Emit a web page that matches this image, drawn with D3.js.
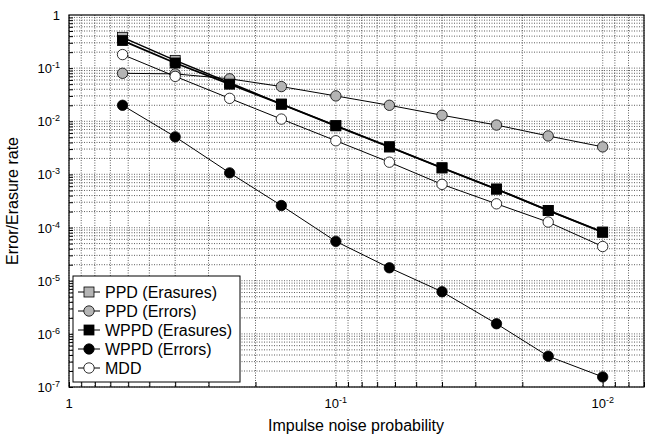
<!DOCTYPE html>
<html lang="en">
<head>
<meta charset="utf-8">
<title>Error/Erasure rate vs impulse noise probability</title>
<script src="https://d3js.org/d3.v7.min.js"></script>
<style>
* { margin: 0; padding: 0; }
body { background: #fff; font-family: 'Liberation Sans', Arial, sans-serif; }
</style>
</head>
<body>
<script>
// data
let noiseProb = [0.63, 0.4, 0.25, 0.16, 0.1, 0.063, 0.04, 0.025, 0.016, 0.01];
let ppdErasures  = [0.38, 0.14, 0.053, 0.021, 0.0083, 0.0033, 0.00133, 0.00053, 0.00021, 8.2e-5];
let ppdErrors    = [0.08, 0.078, 0.063, 0.045, 0.03, 0.02, 0.013, 0.0085, 0.0053, 0.0033];
let wppdErasures = [0.33, 0.125, 0.05, 0.021, 0.0082, 0.0033, 0.00133, 0.00053, 0.00021, 8.2e-5];
let wppdErrors   = [0.02, 0.0051, 0.00107, 2.6e-4, 5.5e-5, 1.75e-5, 6.2e-6, 1.55e-6, 3.8e-7, 1.55e-7];
let mdd          = [0.18, 0.07, 0.027, 0.011, 0.0043, 0.0017, 6.5e-4, 2.8e-4, 1.27e-4, 4.4e-5];
let xTickExp = [0, -1, -2];
let yTickExp = [0, -1, -2, -3, -4, -5, -6, -7];

let series = [
  {name: "PPD (Erasures)",  vals: ppdErasures,  shape: "square", fill: "#b4b4b4", lw: 1.5},
  {name: "PPD (Errors)",    vals: ppdErrors,    shape: "circle", fill: "#b4b4b4", lw: 1},
  {name: "WPPD (Erasures)", vals: wppdErasures, shape: "square", fill: "#000",    lw: 1.8},
  {name: "WPPD (Errors)",   vals: wppdErrors,   shape: "circle", fill: "#000",    lw: 1},
  {name: "MDD",             vals: mdd,          shape: "circle", fill: "#fff",    lw: 1}
];

let w = 651, h = 439;
let padLeft = 69, padTop = 15, padRight = 644, padBottom = 387;

let x = d3.scaleLog().domain([1, 0.007]).range([padLeft, padRight]);
let y = d3.scaleLog().domain([1e-7, 1]).range([padBottom, padTop]);

let svg = d3.select("body").append("svg")
  .attr("width", w).attr("height", h);

// grid: minor (2..9) and major decades
let xMinor = [], yMinor = [];
for (let e = 0; e >= -3; e--) {
  for (let k = 1; k <= 9; k++) {
    let v = k * Math.pow(10, e);
    if (v <= 1 && v >= 0.007) xMinor.push(v);
  }
}
for (let e = -7; e < 0; e++) {
  for (let k = 1; k <= 9; k++) yMinor.push(k * Math.pow(10, e));
}

function isMajor(d) { return Math.abs(Math.log10(d) - Math.round(Math.log10(d))) < 1e-6; }

let grid = svg.append("g");
grid.selectAll(".vx").data(xMinor).enter().append("line")
  .attr("x1", d => x(d)).attr("x2", d => x(d))
  .attr("y1", padTop).attr("y2", padBottom)
  .attr("stroke", d => isMajor(d) ? "#888" : "#333")
  .attr("stroke-width", d => isMajor(d) ? 1.2 : 0.8)
  .attr("stroke-dasharray", "1,1.5");
grid.selectAll(".hy").data(yMinor).enter().append("line")
  .attr("x1", padLeft).attr("x2", padRight)
  .attr("y1", d => y(d)).attr("y2", d => y(d))
  .attr("stroke", d => isMajor(d) ? "#888" : "#333")
  .attr("stroke-width", d => isMajor(d) ? 1.2 : 0.8)
  .attr("stroke-dasharray", "1,1.5");

// axes with inward ticks
svg.append("g")
  .attr("transform", "translate(0," + padBottom + ")")
  .call(d3.axisTop(x).tickValues(xMinor).tickFormat("").tickSizeInner(5).tickSizeOuter(0))
  .call(g => g.select(".domain").remove());
svg.append("g")
  .attr("transform", "translate(" + padLeft + ",0)")
  .call(d3.axisRight(y).tickValues(yMinor).tickFormat("").tickSizeInner(4).tickSizeOuter(0))
  .call(g => g.select(".domain").remove());

svg.append("rect")
  .attr("x", padLeft).attr("y", padTop)
  .attr("width", padRight - padLeft).attr("height", padBottom - padTop)
  .attr("fill", "none").attr("stroke", "#000").attr("stroke-width", 1.2);

// tick labels
let xl = svg.append("g").attr("font-size", 13).attr("text-anchor", "middle");
xTickExp.forEach(e => {
  let t = xl.append("text").attr("x", x(Math.pow(10, e))).attr("y", padBottom + 21);
  if (e === 0) t.text("1");
  else { t.append("tspan").text("10"); t.append("tspan").attr("dy", -5).attr("font-size", 9).text(e); }
});
let yl = svg.append("g").attr("font-size", 13).attr("text-anchor", "end");
yTickExp.forEach(e => {
  let t = yl.append("text").attr("x", padLeft - 9).attr("y", y(Math.pow(10, e)) + 5);
  if (e === 0) t.text("1");
  else { t.append("tspan").text("10"); t.append("tspan").attr("dy", -5).attr("font-size", 9).text(e); }
});

svg.append("text")
  .attr("x", 356).attr("y", 431)
  .attr("text-anchor", "middle").attr("font-size", 16)
  .text("Impulse noise probability");
svg.append("text")
  .attr("transform", "translate(18," + ((padTop + padBottom) / 2) + ") rotate(-90)")
  .attr("text-anchor", "middle").attr("font-size", 16)
  .text("Error/Erasure rate");

// series
let line = d3.line().x(d => x(d[0])).y(d => y(d[1]));

function drawMarker(g, shape, fill, cx, cy) {
  if (shape === "square") {
    g.append("rect").attr("x", cx - 5).attr("y", cy - 5)
      .attr("width", 10).attr("height", 10)
      .attr("fill", fill).attr("stroke", "#000").attr("stroke-width", 0.8);
  } else {
    g.append("circle").attr("cx", cx).attr("cy", cy).attr("r", 5.2)
      .attr("fill", fill).attr("stroke", "#000").attr("stroke-width", 0.8);
  }
}

series.forEach(s => {
  let pts = noiseProb.map((p, i) => [p, s.vals[i]]);
  let g = svg.append("g");
  g.append("path").datum(pts).attr("d", line)
    .attr("fill", "none").attr("stroke", "#000").attr("stroke-width", s.lw);
  pts.forEach(p => drawMarker(g, s.shape, s.fill, x(p[0]), y(p[1])));
});

// legend
let lg = svg.append("g");
lg.append("rect").attr("x", 73).attr("y", 276).attr("width", 167).attr("height", 106)
  .attr("fill", "#fff").attr("stroke", "#000").attr("stroke-width", 1);
series.forEach((s, i) => {
  let yy = 292 + i * 19;
  lg.append("line").attr("x1", 78).attr("x2", 100).attr("y1", yy).attr("y2", yy)
    .attr("stroke", "#000").attr("stroke-width", 1);
  drawMarker(lg, s.shape, s.fill, 89, yy);
  lg.append("text").attr("x", 105).attr("y", yy + 6).attr("font-size", 16).text(s.name);
});
</script>
</body>
</html>
